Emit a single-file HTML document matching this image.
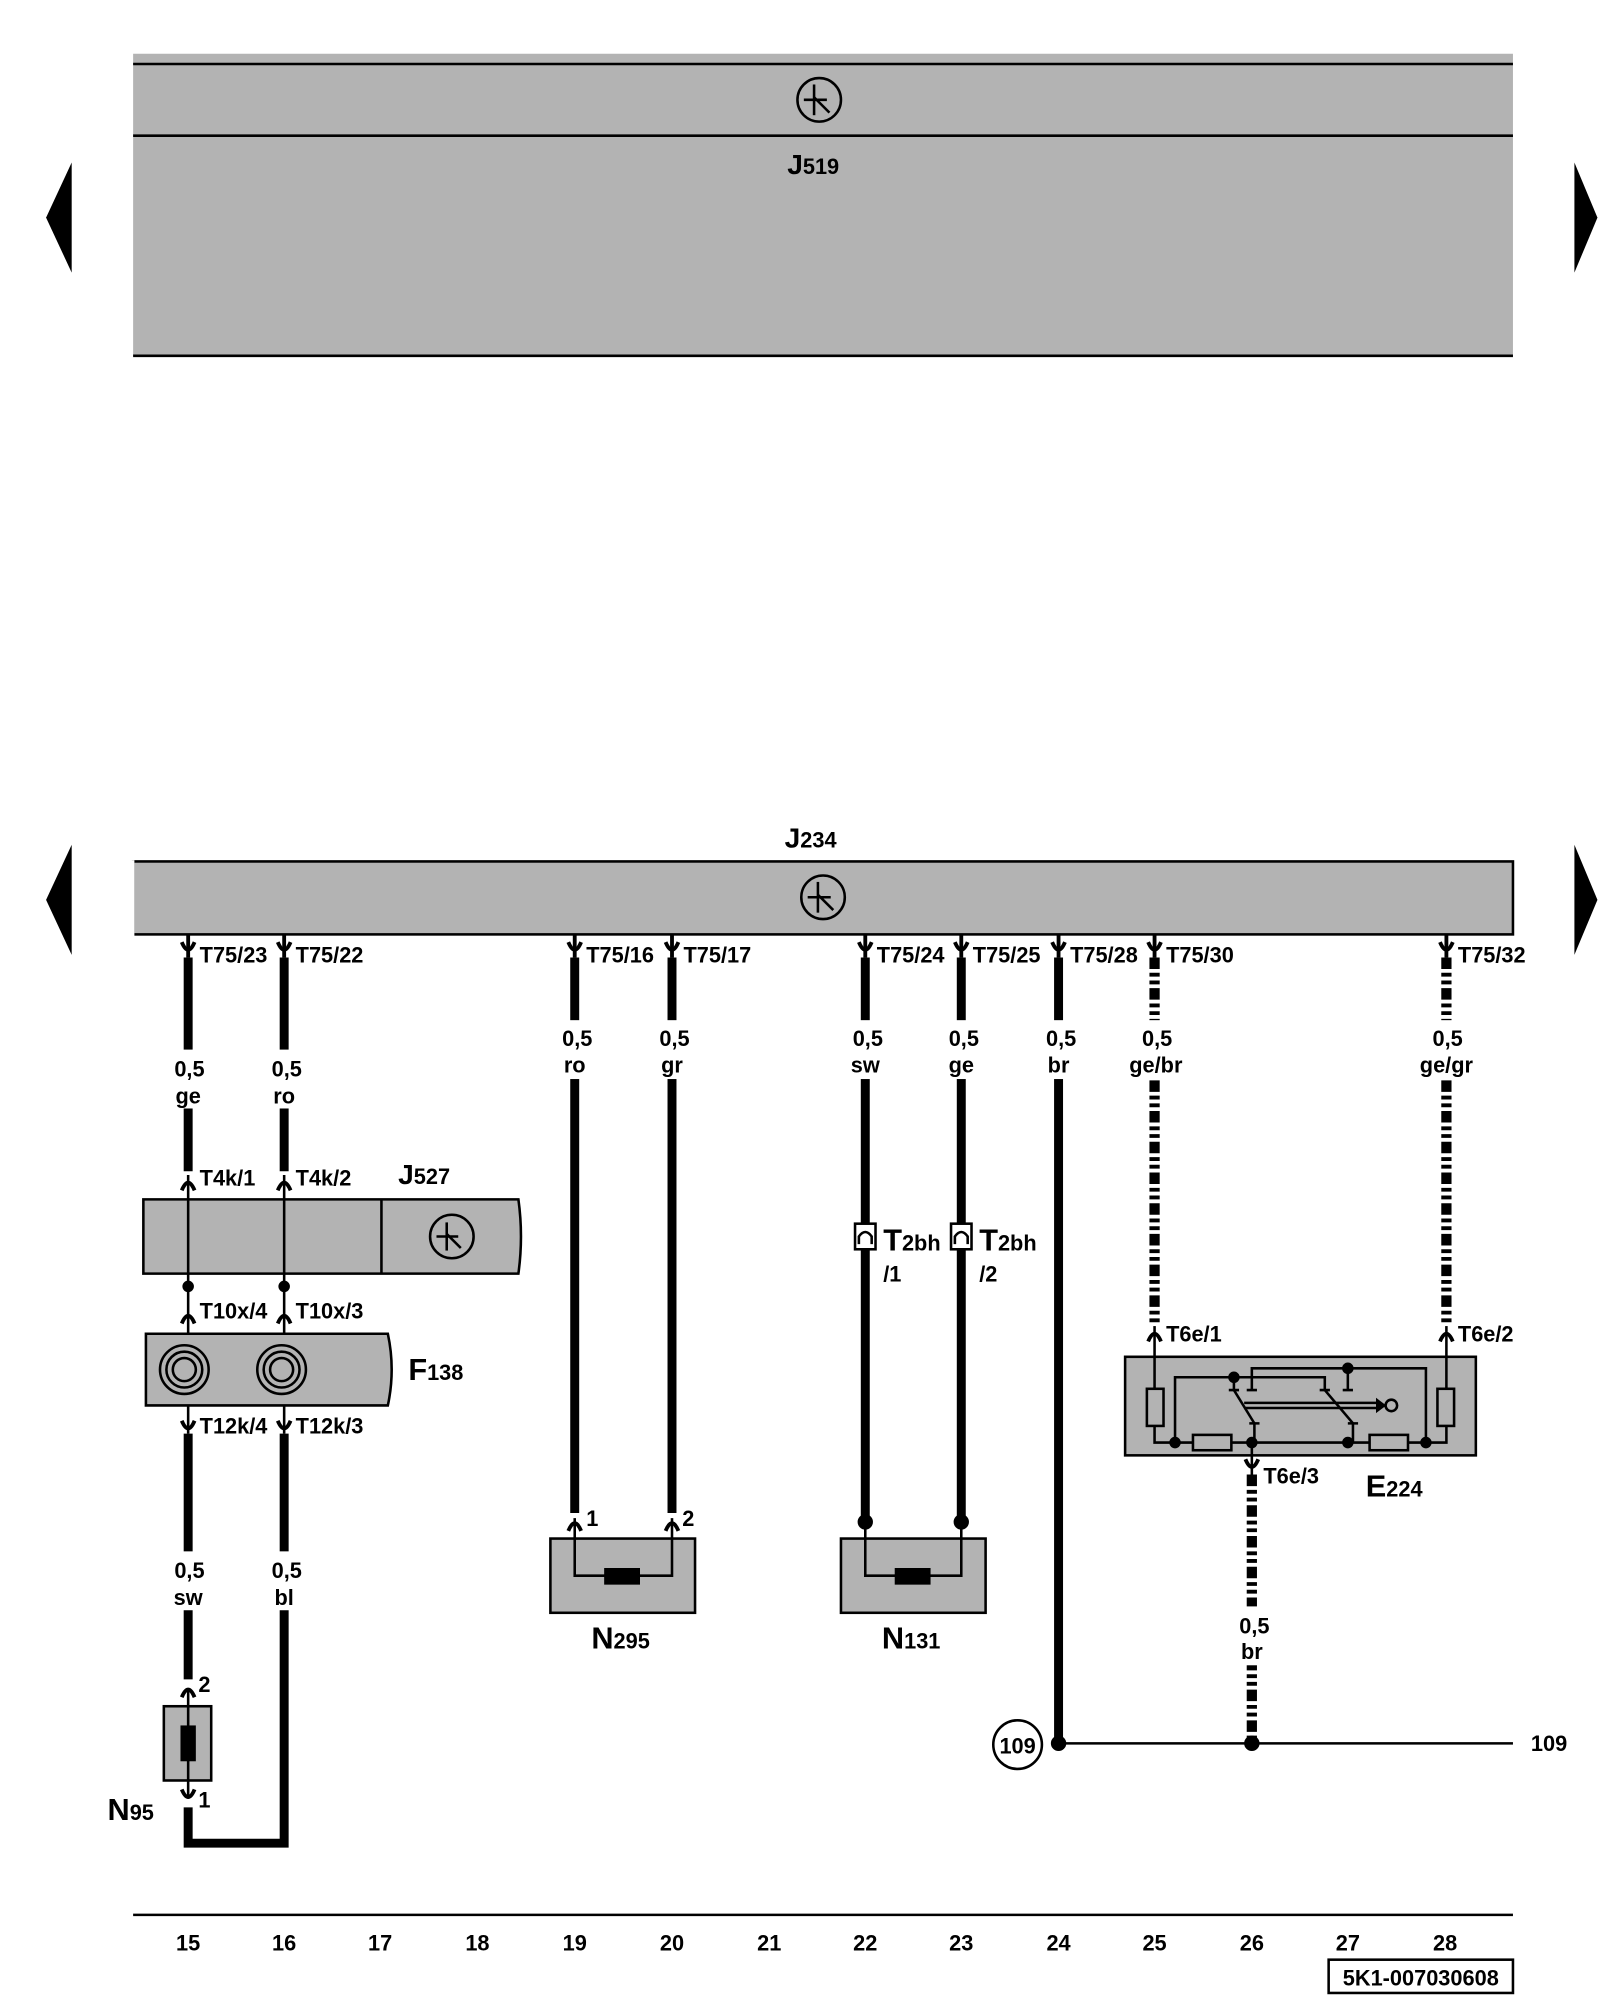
<!DOCTYPE html>
<html><head><meta charset="utf-8"><style>
html,body{margin:0;padding:0;background:#fff}
svg{display:block}
text{font-family:"Liberation Sans",Arial,sans-serif;font-weight:bold;fill:#000}
</style></head><body>
<svg width="1600" height="2000" viewBox="0 0 1250 1562.5" preserveAspectRatio="none" xmlns="http://www.w3.org/2000/svg">
<rect width="1250" height="1563" fill="#fff"/>
<!-- J519 -->
<rect x="104" y="42" width="1078" height="236" fill="#b3b3b3"/>
<line x1="104" y1="50" x2="1182" y2="50" stroke="#000" stroke-width="2"/>
<line x1="104" y1="106" x2="1182" y2="106" stroke="#000" stroke-width="2"/>
<line x1="104" y1="278" x2="1182" y2="278" stroke="#000" stroke-width="2"/>
<g stroke="#000" stroke-width="2" fill="none">
<circle cx="640" cy="78" r="17"/><line x1="636" y1="66" x2="636" y2="90"/><line x1="628" y1="78" x2="646" y2="78"/><line x1="636" y1="76" x2="648" y2="88"/>
</g>
<text x="615" y="136" font-size="22">J<tspan font-size="17">519</tspan></text>
<polygon points="56,127 36,170 56,213" fill="#000"/>
<polygon points="1230,127 1248,170 1230,213" fill="#000"/>
<!-- J234 -->
<text x="613" y="662" font-size="22">J<tspan font-size="17">234</tspan></text>
<rect x="104" y="673" width="1078" height="57" fill="#b3b3b3" stroke="#000" stroke-width="2"/>
<rect x="102" y="672" width="3" height="60" fill="#fff"/>
<g stroke="#000" stroke-width="2" fill="none">
<circle cx="643" cy="701" r="17"/><line x1="639" y1="689" x2="639" y2="713"/><line x1="631" y1="701" x2="649" y2="701"/><line x1="639" y1="699" x2="651" y2="711"/>
</g>
<polygon points="56,660 36,703 56,746" fill="#000"/>
<polygon points="1230,660 1248,703 1230,746" fill="#000"/>

<!-- thick wires -->
<g stroke="#000" stroke-width="7" fill="none">
<line x1="147" y1="748" x2="147" y2="915"/>
<line x1="222" y1="748" x2="222" y2="915"/>
<line x1="147" y1="1120" x2="147" y2="1312"/>
<path d="M147 1412 V1440 H222 V1120"/>
<line x1="449" y1="748" x2="449" y2="1182"/>
<line x1="525" y1="748" x2="525" y2="1182"/>
<line x1="676" y1="748" x2="676" y2="1188"/>
<line x1="751" y1="748" x2="751" y2="1188"/>
<line x1="827" y1="748" x2="827" y2="1362"/>
</g>
<g stroke="#000" stroke-width="8" fill="none" stroke-dasharray="9 3 3 3 3 3">
<line x1="902" y1="748" x2="902" y2="1036"/>
<line x1="1130" y1="748" x2="1130" y2="1036"/>
<line x1="978" y1="1152" x2="978" y2="1360"/>
</g>
<!-- label backgrounds -->
<g fill="#fff">
<rect x="130" y="820" width="34" height="46"/><rect x="205" y="820" width="34" height="46"/>
<rect x="130" y="1212" width="34" height="46"/><rect x="205" y="1212" width="34" height="46"/>
<rect x="432" y="797" width="34" height="46"/><rect x="508" y="797" width="34" height="46"/>
<rect x="659" y="797" width="34" height="46"/><rect x="734" y="797" width="34" height="46"/>
<rect x="810" y="797" width="34" height="46"/><rect x="878" y="797" width="50" height="46"/>
<rect x="1105" y="797" width="52" height="46"/><rect x="961" y="1255" width="34" height="46"/>
</g>
<g font-size="17" text-anchor="middle">
<text x="148" y="841">0,5</text><text x="147" y="862">ge</text>
<text x="224" y="841">0,5</text><text x="222" y="862">ro</text>
<text x="148" y="1233">0,5</text><text x="147" y="1254">sw</text>
<text x="224" y="1233">0,5</text><text x="222" y="1254">bl</text>
<text x="451" y="817">0,5</text><text x="449" y="838">ro</text>
<text x="527" y="817">0,5</text><text x="525" y="838">gr</text>
<text x="678" y="817">0,5</text><text x="676" y="838">sw</text>
<text x="753" y="817">0,5</text><text x="751" y="838">ge</text>
<text x="829" y="817">0,5</text><text x="827" y="838">br</text>
<text x="904" y="817">0,5</text><text x="903" y="838">ge/br</text>
<text x="1131" y="817">0,5</text><text x="1130" y="838">ge/gr</text>
<text x="980" y="1276">0,5</text><text x="978" y="1296">br</text>
</g>
<!-- top connectors -->
<g stroke="#000" stroke-width="3" fill="none">
<path d="M142 736 Q147 748 152 736"/><path d="M217 736 Q222 748 227 736"/>
<path d="M444 736 Q449 748 454 736"/><path d="M520 736 Q525 748 530 736"/>
<path d="M671 736 Q676 748 681 736"/><path d="M746 736 Q751 748 756 736"/>
<path d="M822 736 Q827 748 832 736"/><path d="M897 736 Q902 748 907 736"/>
<path d="M1125 736 Q1130 748 1135 736"/>
<line x1="147" y1="730" x2="147" y2="748"/><line x1="222" y1="730" x2="222" y2="748"/>
<line x1="449" y1="730" x2="449" y2="748"/><line x1="525" y1="730" x2="525" y2="748"/>
<line x1="676" y1="730" x2="676" y2="748"/><line x1="751" y1="730" x2="751" y2="748"/>
<line x1="827" y1="730" x2="827" y2="748"/><line x1="902" y1="730" x2="902" y2="748"/>
<line x1="1130" y1="730" x2="1130" y2="748"/>
</g>
<g font-size="17">
<text x="156" y="752">T75/23</text><text x="231" y="752">T75/22</text>
<text x="458" y="752">T75/16</text><text x="534" y="752">T75/17</text>
<text x="685" y="752">T75/24</text><text x="760" y="752">T75/25</text>
<text x="836" y="752">T75/28</text><text x="911" y="752">T75/30</text>
<text x="1139" y="752">T75/32</text>
</g>
<!-- J527 -->
<path d="M112 937 H405 Q409 966 405 995 H112 Z" fill="#b3b3b3" stroke="#000" stroke-width="2"/>
<line x1="298" y1="937" x2="298" y2="995" stroke="#000" stroke-width="2"/>
<g stroke="#000" stroke-width="2" fill="none">
<circle cx="353" cy="966" r="17"/><line x1="349" y1="955" x2="349" y2="977"/><line x1="341" y1="966" x2="358" y2="966"/><line x1="349" y1="964" x2="360" y2="975"/>
</g>
<text x="311" y="925" font-size="22">J<tspan font-size="17">527</tspan></text>
<g stroke="#000" stroke-width="2" fill="none">
<line x1="147" y1="918" x2="147" y2="1120"/><line x1="222" y1="918" x2="222" y2="1120"/>
</g>
<g stroke="#000" stroke-width="3" fill="none">
<path d="M142 930 Q147 918 152 930"/><path d="M217 930 Q222 918 227 930"/>
<path d="M142 1034 Q147 1022 152 1034"/><path d="M217 1034 Q222 1022 227 1034"/>
<path d="M142 1110 Q147 1122 152 1110"/><path d="M217 1110 Q222 1122 227 1110"/>
</g>
<circle cx="147" cy="1005" r="4.5"/><circle cx="222" cy="1005" r="4.5"/>
<g font-size="17">
<text x="156" y="926">T4k/1</text><text x="231" y="926">T4k/2</text>
<text x="156" y="1030">T10x/4</text><text x="231" y="1030">T10x/3</text>
<text x="156" y="1120">T12k/4</text><text x="231" y="1120">T12k/3</text>
</g>
<!-- F138 -->
<path d="M114 1042 H303 Q309 1070 303 1098 H114 Z" fill="#b3b3b3" stroke="#000" stroke-width="2"/>
<g stroke="#000" stroke-width="2" fill="none">
<circle cx="144" cy="1070" r="19"/><circle cx="144" cy="1070" r="14"/><circle cx="144" cy="1070" r="9"/>
<circle cx="220" cy="1070" r="19"/><circle cx="220" cy="1070" r="14"/><circle cx="220" cy="1070" r="9"/>
</g>
<text x="319" y="1078" font-size="24">F<tspan font-size="17">138</tspan></text>
<!-- N95 -->
<rect x="128" y="1333" width="37" height="58" fill="#b3b3b3" stroke="#000" stroke-width="2"/>
<line x1="147" y1="1320" x2="147" y2="1404" stroke="#000" stroke-width="2"/>
<rect x="141" y="1348" width="12" height="28" fill="#000"/>
<g stroke="#000" stroke-width="3" fill="none"><path d="M142 1326 Q147 1314 152 1326"/><path d="M142 1398 Q147 1410 152 1398"/></g>
<text x="155" y="1322" font-size="17">2</text><text x="155" y="1412" font-size="17">1</text>
<text x="84" y="1422" font-size="24">N<tspan font-size="17">95</tspan></text>
<!-- N295 -->
<rect x="430" y="1202" width="113" height="58" fill="#b3b3b3" stroke="#000" stroke-width="2"/>
<path d="M449 1186 V1231 H525 V1186" stroke="#000" stroke-width="2" fill="none"/>
<rect x="472" y="1225" width="28" height="13" fill="#000"/>
<g stroke="#000" stroke-width="3" fill="none"><path d="M444 1196 Q449 1184 454 1196"/><path d="M520 1196 Q525 1184 530 1196"/></g>
<text x="458" y="1192" font-size="17">1</text><text x="533" y="1192" font-size="17">2</text>
<text x="462" y="1288" font-size="24">N<tspan font-size="17">295</tspan></text>
<!-- N131 -->
<rect x="657" y="1202" width="113" height="58" fill="#b3b3b3" stroke="#000" stroke-width="2"/>
<path d="M676 1188 V1231 H751 V1188" stroke="#000" stroke-width="2" fill="none"/>
<rect x="699" y="1225" width="28" height="13" fill="#000"/>
<circle cx="676" cy="1189" r="6"/><circle cx="751" cy="1189" r="6"/>
<text x="689" y="1288" font-size="24">N<tspan font-size="17">131</tspan></text>
<!-- T2bh -->
<g stroke="#000" stroke-width="2"><rect x="668" y="956" width="16" height="20" fill="#fff"/><rect x="743" y="956" width="16" height="20" fill="#fff"/>
<path d="M671 972 V966 Q676 959 681 966 V972" fill="none"/><path d="M746 972 V966 Q751 959 756 966 V972" fill="none"/></g>
<text x="690" y="977" font-size="24">T<tspan font-size="17">2bh</tspan></text>
<text x="690" y="1001" font-size="17">/1</text>
<text x="765" y="977" font-size="24">T<tspan font-size="17">2bh</tspan></text>
<text x="765" y="1001" font-size="17">/2</text>
<!-- E224 -->
<rect x="879" y="1060" width="274" height="77" fill="#b3b3b3" stroke="#000" stroke-width="2"/>
<g stroke="#000" stroke-width="2" fill="none">
<line x1="902" y1="1036" x2="902" y2="1085"/><line x1="1130" y1="1036" x2="1130" y2="1085"/>
<rect x="896" y="1085" width="13" height="29" fill="#b3b3b3"/><rect x="1123" y="1085" width="13" height="29" fill="#b3b3b3"/>
<path d="M902 1114 V1127 H1130 V1114"/>
<rect x="932" y="1121" width="30" height="12" fill="#b3b3b3"/><rect x="1070" y="1121" width="30" height="12" fill="#b3b3b3"/>
<path d="M918 1127 V1076 H1035 V1086"/><path d="M978 1086 V1069 H1114 V1127"/>
<line x1="964" y1="1076" x2="964" y2="1086"/><line x1="1053" y1="1069" x2="1053" y2="1086"/>
<path d="M960 1086 H968 M974 1086 H982 M1031 1086 H1039 M1049 1086 H1057 M976 1112 H984 M1053 1112 H1061"/>
<line x1="964" y1="1086" x2="980" y2="1112"/>
<line x1="1035" y1="1086" x2="1057" y2="1112"/>
<line x1="980" y1="1112" x2="980" y2="1127"/><line x1="1057" y1="1112" x2="1057" y2="1127"/>
<line x1="972" y1="1096" x2="1075" y2="1096"/><line x1="972" y1="1100" x2="1075" y2="1100"/>
<circle cx="1087" cy="1098" r="4.5"/>
<line x1="978" y1="1127" x2="978" y2="1152"/>
</g>
<g stroke="#000" stroke-width="3" fill="none">
<path d="M897 1048 Q902 1036 907 1048"/><path d="M1125 1048 Q1130 1036 1135 1048"/>
<path d="M973 1140 Q978 1152 983 1140"/>
</g>
<polygon points="1075,1092 1083,1098 1075,1104" fill="#000"/>
<g fill="#000"><circle cx="918" cy="1127" r="4.5"/><circle cx="978" cy="1127" r="4.5"/><circle cx="1053" cy="1127" r="4.5"/><circle cx="1114" cy="1127" r="4.5"/><circle cx="964" cy="1076" r="4.5"/><circle cx="1053" cy="1069" r="4.5"/></g>
<g font-size="17"><text x="911" y="1048">T6e/1</text><text x="1139" y="1048">T6e/2</text><text x="987" y="1159">T6e/3</text></g>
<text x="1067" y="1169" font-size="24">E<tspan font-size="17">224</tspan></text>
<!-- 109 bus -->
<line x1="827" y1="1362" x2="1182" y2="1362" stroke="#000" stroke-width="2"/>
<circle cx="827" cy="1362" r="6"/><circle cx="978" cy="1362" r="6"/>
<circle cx="795" cy="1363" r="19" fill="#fff" stroke="#000" stroke-width="2"/>
<text x="795" y="1370" font-size="17" text-anchor="middle">109</text>
<text x="1196" y="1368" font-size="17">109</text>
<!-- bottom -->
<line x1="104" y1="1496" x2="1182" y2="1496" stroke="#000" stroke-width="2"/>
<g font-size="17" text-anchor="middle">
<text x="147" y="1524">15</text><text x="222" y="1524">16</text><text x="297" y="1524">17</text><text x="373" y="1524">18</text>
<text x="449" y="1524">19</text><text x="525" y="1524">20</text><text x="601" y="1524">21</text><text x="676" y="1524">22</text>
<text x="751" y="1524">23</text><text x="827" y="1524">24</text><text x="902" y="1524">25</text><text x="978" y="1524">26</text>
<text x="1053" y="1524">27</text><text x="1129" y="1524">28</text>
</g>
<rect x="1038" y="1531" width="144" height="26" fill="#fff" stroke="#000" stroke-width="2"/>
<text x="1110" y="1551" font-size="17" text-anchor="middle">5K1-007030608</text>
</svg>
</body></html>
